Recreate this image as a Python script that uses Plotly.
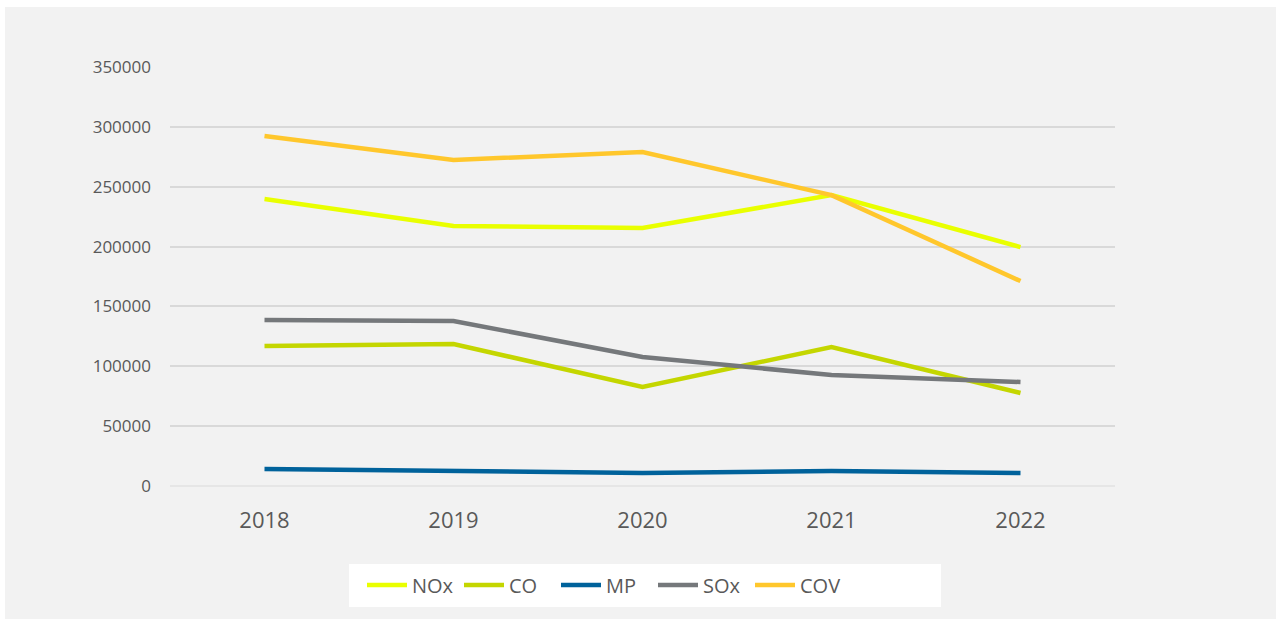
import plotly.graph_objects as go

years = ["2018", "2019", "2020", "2021", "2022"]
nox = [239700, 217200, 215500, 243000, 199600]
co = [116900, 118600, 82700, 116100, 77700]
mp = [14200, 12500, 10900, 12500, 10900]
sox = [138700, 137800, 107800, 92700, 86900]
cov = [292300, 272300, 279000, 243000, 171200]

series = [
    ("NOx", nox, "#e9ff00"),
    ("CO", co, "#c4d600"),
    ("MP", mp, "#00629b"),
    ("SOx", sox, "#75787b"),
    ("COV", cov, "#ffc72c"),
]

fig = go.Figure()
for name, vals, color in series:
    fig.add_trace(go.Scatter(
        x=years, y=vals, name=name, mode="lines",
        line=dict(color=color, width=4.5),
    ))

L, R, T, B = 170, 166, 67, 133
W, H = 1281, 619
pw, ph = W - L - R, H - T - B

def px(x):
    return (x - L) / pw

def py(y):
    return (H - B - y) / ph

fig.add_shape(type="rect", xref="paper", yref="paper",
              x0=px(5), x1=px(1276), y0=py(619), y1=py(7),
              fillcolor="#f2f2f2", line=dict(width=0), layer="below")
fig.add_shape(type="rect", xref="paper", yref="paper",
              x0=px(349), x1=px(941), y0=py(607), y1=py(564),
              fillcolor="white", line=dict(width=0), layer="below")

font_family = "Open Sans, Noto Sans, sans-serif"
fig.update_layout(
    width=W, height=H,
    margin=dict(l=L, r=R, t=T, b=B),
    paper_bgcolor="white",
    plot_bgcolor="#f2f2f2",
    font=dict(family=font_family, color="#595959"),
    showlegend=True,
    legend=dict(
        orientation="h", x=px(362), xanchor="left", y=py(585), yanchor="middle",
        bgcolor="rgba(0,0,0,0)", font=dict(size=20, color="#595959"),
        itemwidth=40, tracegroupgap=0, entrywidth=42, entrywidthmode="pixels",
    ),
    xaxis=dict(
        type="category", range=[-0.5, 4.5], showgrid=False, zeroline=False, showline=False,
        tickfont=dict(size=22, color="#595959"), ticks="", ticklabelstandoff=19,
    ),
    yaxis=dict(
        range=[0, 350000], tickvals=[0, 50000, 100000, 150000, 200000, 250000, 300000, 350000],
        ticktext=["0", "50000", "100000", "150000", "200000", "250000", "300000", "350000"],
        showgrid=True, gridcolor="#d9d9d9", gridwidth=1.5,
        zeroline=True, zerolinecolor="#e6e6e6", zerolinewidth=1.5,
        tickfont=dict(size=17, color="#595959"), ticks="", ticklabelstandoff=18,
    ),
)

fig.write_html("out.html", config={"displayModeBar": False},
               post_script="document.body.style.margin='0';document.body.style.padding='0';")
